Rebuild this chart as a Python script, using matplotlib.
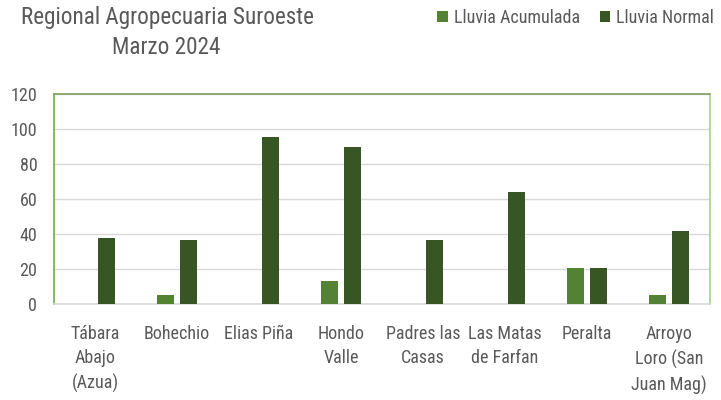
import numpy as np
import matplotlib.pyplot as plt
from matplotlib import font_manager

# Data
categories = ['Tábara\nAbajo\n(Azua)', 'Bohechio', 'Elias Piña', 'Hondo\nValle',
              'Padres las\nCasas', 'Las Matas\nde Farfan', 'Peralta',
              'Arroyo\nLoro (San\nJuan Mag)']
lluvia_acumulada = [0, 5, 0, 13, 0, 0, 20.5, 5]
lluvia_normal = [38, 36.5, 95.5, 89.5, 36.5, 64, 20.5, 42]

# pick a condensed font like the original Calibri-ish look
names = set(f.name for f in font_manager.fontManager.ttflist)
fam = 'DejaVu Sans'
for cand in ['Roboto Condensed', 'Open Sans Condensed', 'Liberation Sans Narrow',
             'Archivo Narrow', 'PT Sans Narrow', 'Fira Sans Condensed',
             'Encode Sans Condensed', 'Pragati Narrow', 'Abel']:
    if cand in names:
        fam = cand
        break
plt.rcParams['font.family'] = [fam, 'DejaVu Sans']

txt = '#595959'
c_acum = '#548235'
c_norm = '#375623'

fig = plt.figure(figsize=(7.21, 4.0), dpi=100)
ax = fig.add_axes([0.0749, 0.24, 0.91, 0.525])

x = np.arange(len(categories))
w = 0.21
ax.bar(x - 0.143, lluvia_acumulada, w, color=c_acum, label='Lluvia Acumulada', zorder=3)
ax.bar(x + 0.143, lluvia_normal, w, color=c_norm, label='Lluvia Normal', zorder=3)

ax.set_xlim(-0.5, len(categories) - 0.5)
ax.set_ylim(0, 120)
ax.set_yticks(range(0, 121, 20))
ax.grid(axis='y', color='#D9D9D9', linewidth=1, zorder=0)
ax.tick_params(axis='y', length=0, labelsize=13, labelcolor=txt, pad=12)
ax.tick_params(axis='x', length=0, labelsize=13, labelcolor=txt, pad=15)
ax.set_xticks(x)
ax.set_xticklabels(categories, linespacing=1.45)

ax.spines['left'].set_color('#70AD47')
ax.spines['top'].set_color('#7FA060')
ax.spines['right'].set_color('#A9D08E')
ax.spines['bottom'].set_color('#D9D9D9')
for s in ax.spines.values():
    s.set_linewidth(1.2)

fig.text(0.029, 0.957, 'Regional Agropecuaria Suroeste', fontsize=16.7, color=txt, va='center')
fig.text(0.155, 0.882, 'Marzo 2024', fontsize=16.7, color=txt, va='center')

fig.legend(loc='center right', bbox_to_anchor=(1.0, 0.955), ncol=2, frameon=False,
           fontsize=13, labelcolor=txt, handlelength=0.6, handleheight=0.6,
           handletextpad=0.3, columnspacing=1.1, borderaxespad=0)

fig.savefig('out.png', dpi=100)
